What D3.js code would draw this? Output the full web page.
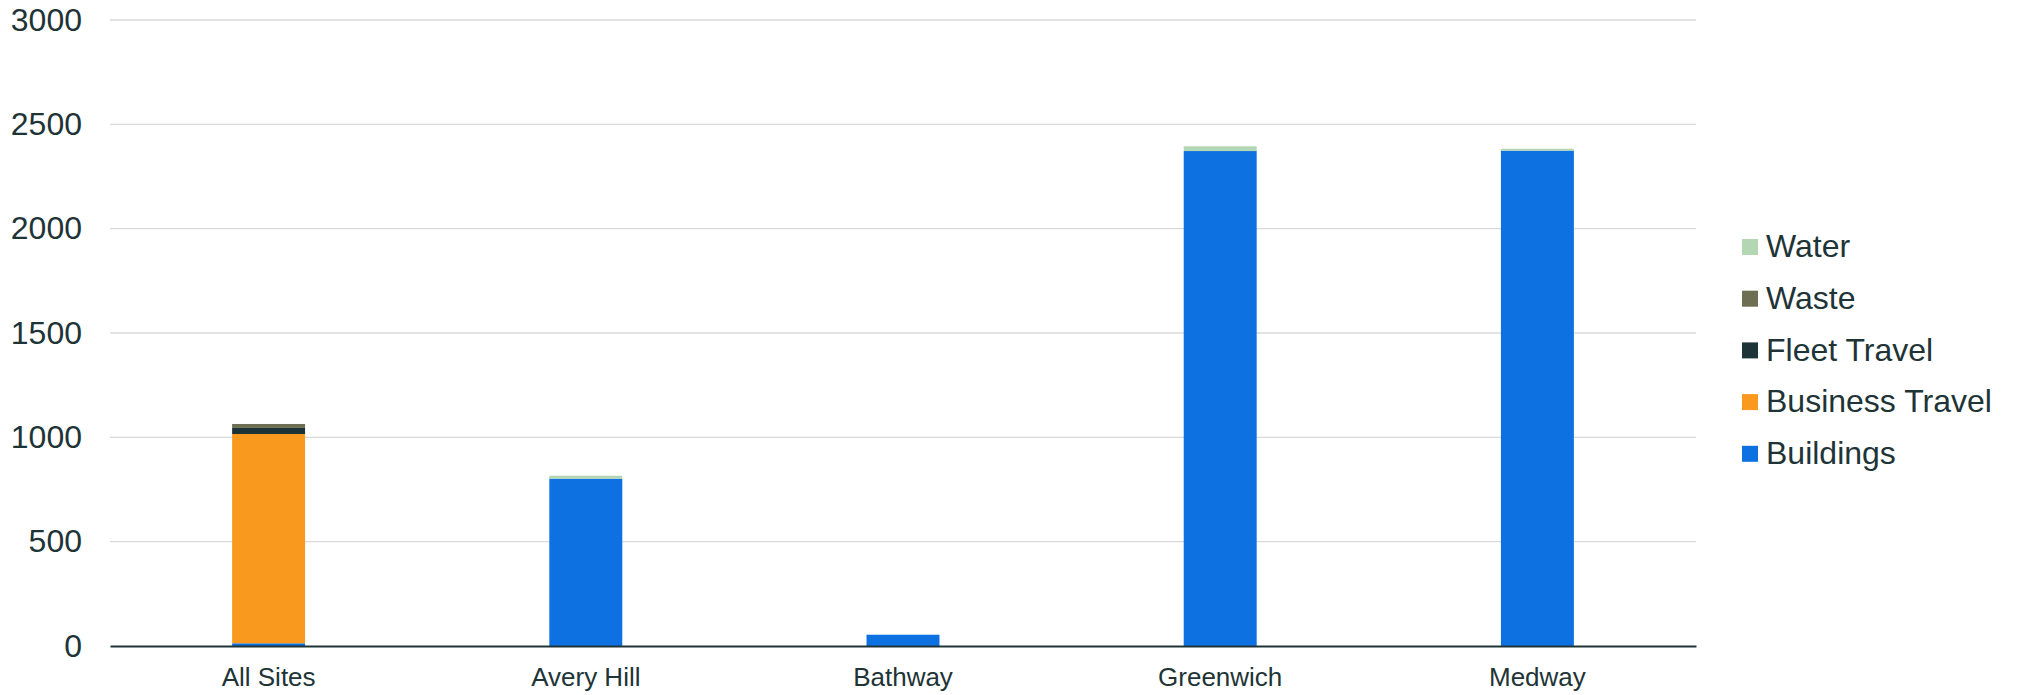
<!DOCTYPE html>
<html>
<head>
<meta charset="utf-8">
<script src="https://cdn.jsdelivr.net/npm/d3@7"></script>
<style>
    body { margin: 0; background: #fff; }
    text { font-family: "Liberation Sans", Arial, sans-serif; fill: #1e3437; }
</style>
</head>
<body>
<div id="chart"></div>
<script>
// Chart data
const sites = ["All Sites", "Avery Hill", "Bathway", "Greenwich", "Medway"];
const seriesNames = ["Buildings", "Business Travel", "Fleet Travel", "Waste", "Water"];
const buildings = [13, 802, 54, 2372, 2374];
const businessTravel = [1003, 0, 0, 0, 0];
const fleetTravel = [29, 0, 0, 0, 0];
const waste = [19, 0, 0, 0, 0];
const water = [0, 14, 0, 23, 9];
const yTicks = [0, 500, 1000, 1500, 2000, 2500, 3000];
const colors = ["#0e71e2", "#f9991e", "#1c3438", "#6e6f52", "#b3d6b3"];

// Dimensions
const width = 2023;
const height = 695;
const margin = { top: 20, right: 327, bottom: 49, left: 110 };

const data = sites.map((s, i) => ({
    site: s,
    "Buildings": buildings[i],
    "Business Travel": businessTravel[i],
    "Fleet Travel": fleetTravel[i],
    "Waste": waste[i],
    "Water": water[i]
}));

const svg = d3.select("#chart")
    .append("svg")
    .attr("width", width)
    .attr("height", height);

const x = d3.scaleBand()
    .domain(sites)
    .range([margin.left, width - margin.right])
    .paddingInner(0.77)
    .paddingOuter(0.385);

const y = d3.scaleLinear()
    .domain([0, 3000])
    .range([height - margin.bottom, margin.top]);

const color = d3.scaleOrdinal().domain(seriesNames).range(colors);

// Gridlines
svg.append("g")
    .selectAll("line")
    .data(yTicks.filter(d => d > 0))
    .enter()
    .append("line")
    .attr("x1", margin.left)
    .attr("x2", width - margin.right)
    .attr("y1", d => y(d))
    .attr("y2", d => y(d))
    .attr("stroke", "#d9d9d9")
    .attr("stroke-width", 1.3);

// Y axis
const yAxis = svg.append("g")
    .attr("transform", `translate(${margin.left}, 0)`)
    .call(d3.axisLeft(y).tickValues(yTicks).tickFormat(d3.format("d")).tickSize(0).tickPadding(28));
yAxis.select(".domain").remove();
yAxis.selectAll("text")
    .style("font-size", "32px")
    .style("font-family", "'Liberation Sans', Arial, sans-serif")
    .attr("fill", "#1e3437");

// Stacked bars
const stack = d3.stack().keys(seriesNames);
const layers = stack(data);

svg.append("g")
    .selectAll("g")
    .data(layers)
    .enter()
    .append("g")
    .attr("fill", d => color(d.key))
    .selectAll("rect")
    .data(d => d)
    .enter()
    .append("rect")
    .attr("x", d => x(d.data.site))
    .attr("y", d => y(d[1]))
    .attr("width", x.bandwidth())
    .attr("height", d => y(d[0]) - y(d[1]));

// X axis
const xAxis = svg.append("g")
    .attr("transform", `translate(0, ${height - margin.bottom})`)
    .call(d3.axisBottom(x).tickSize(0).tickPadding(22));
xAxis.select(".domain")
    .attr("stroke", "#1e3437")
    .attr("stroke-width", 2);
xAxis.selectAll("text")
    .style("font-size", "26px")
    .style("font-family", "'Liberation Sans', Arial, sans-serif")
    .attr("fill", "#1e3437");

// Legend
const legend = svg.append("g")
    .attr("transform", "translate(1742, 246)");

const legendItems = legend.selectAll("g")
    .data(seriesNames.slice().reverse())
    .enter()
    .append("g")
    .attr("transform", (d, i) => `translate(0, ${i * 51.7})`);

legendItems.append("rect")
    .attr("x", 0)
    .attr("y", -7)
    .attr("width", 16)
    .attr("height", 16)
    .attr("fill", d => color(d));

legendItems.append("text")
    .attr("x", 24)
    .attr("y", 0)
    .attr("dy", "0.35em")
    .style("font-size", "32px")
    .text(d => d);
</script>
</body>
</html>
